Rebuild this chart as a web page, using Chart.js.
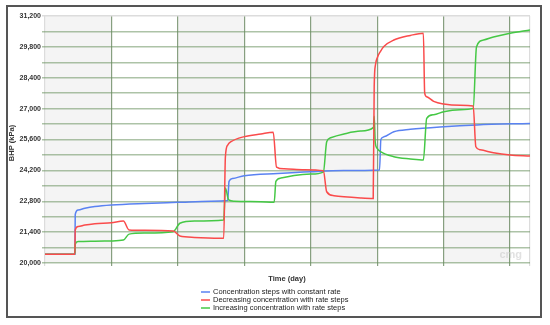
<!DOCTYPE html>
<html>
<head>
<meta charset="utf-8">
<script src="https://cdn.jsdelivr.net/npm/chart.js@4.4.1/dist/chart.umd.min.js"></script>
<style>
  html, body { margin: 0; padding: 0; background: #fff; }
  #wrap { position: relative; width: 550px; height: 325px; }
</style>
</head>
<body>
<div id="wrap"><canvas id="c" width="550" height="325"></canvas></div>
<script>
// DATA
const xTicks = [400, 420, 440, 460, 480, 500, 520, 540, 546];

const constDays = [400, 409, 409.1, 410, 412, 415, 420, 430, 440, 450, 455, 455.4, 456.5, 460, 470, 480, 490, 500.7, 501.1, 502, 505, 510, 520, 530, 546];
const constBHP  = [20400, 20400, 22200, 22400, 22480, 22560, 22630, 22700, 22750, 22800, 22830, 23700, 23830, 23960, 24060, 24140, 24190, 24220, 25600, 25720, 25950, 26060, 26180, 26260, 26330];

const decDays = [400, 409, 409.1, 410, 412, 415, 420, 423.6, 425.3, 430, 438.6, 440.6, 445, 453.8, 454.3, 455, 456, 460, 465, 468.7, 469.7, 472, 478, 483.8, 484.8, 487, 490, 495, 498.8, 499.1, 499.5, 500, 501, 502, 505, 510, 513.9, 514.3, 514.9, 517, 520, 525, 528.9, 529.7, 531, 535, 540, 546];
const decBHP  = [20400, 20400, 21500, 21650, 21720, 21780, 21830, 21900, 21500, 21480, 21450, 21220, 21160, 21120, 24800, 25350, 25500, 25730, 25850, 25930, 24350, 24270, 24230, 24180, 23230, 23050, 23000, 22950, 22930, 28000, 29000, 29300, 29600, 29820, 30110, 30320, 30420, 27700, 27540, 27330, 27210, 27150, 27120, 25270, 25130, 25000, 24900, 24850];

const incDays = [400, 409, 409.1, 410, 415, 420, 423.6, 425.3, 430, 438.6, 440.6, 445, 453.8, 454.3, 455.3, 457, 465, 469, 469.5, 471, 475, 480, 483.8, 484.8, 486, 490, 495, 498.9, 499.1, 499.4, 500, 501, 505, 510, 513.9, 514.9, 517, 520, 525, 528.9, 529.9, 532, 535, 540, 546];
const incBHP  = [20400, 20400, 20850, 20970, 20990, 21000, 21040, 21310, 21360, 21420, 21800, 21900, 21950, 23400, 22860, 22800, 22780, 22760, 23700, 23850, 23970, 24030, 24120, 25500, 25680, 25850, 25980, 26150, 26650, 25500, 25200, 25050, 24820, 24720, 24670, 26560, 26720, 26860, 26950, 27010, 29810, 30110, 30250, 30420, 30570];

const seriesNames = [
  'Concentration steps with constant rate',
  'Decreasing concentration with rate steps',
  'Increasing concentration with rate steps'
];
const blue  = '#5a82f2';
const red   = '#fa4b4b';
const green = '#45c845';

const toPoints = (xs, ys) => xs.map((x, i) => ({ x: x, y: ys[i] }));

// bands, frame, legend, titles
const extras = {
  id: 'extras',
  beforeDraw(chart) {
    const { ctx, chartArea: a, scales: { x } } = chart;
    ctx.save();
    for (let i = 0; i < xTicks.length - 1; i++) {
      if (i % 2 === 0) {
        const x0 = x.getPixelForValue(xTicks[i]);
        const x1 = x.getPixelForValue(xTicks[i + 1]);
        ctx.fillStyle = '#f4f4f4';
        ctx.fillRect(x0, a.top, x1 - x0, a.bottom - a.top);
      }
    }
    ctx.restore();
  },
  afterDraw(chart) {
    const { ctx, chartArea: a } = chart;
    ctx.save();
    // watermark
    ctx.fillStyle = 'rgba(205,205,205,0.6)';
    ctx.font = 'bold 11px "Liberation Sans"';
    ctx.textAlign = 'right';
    ctx.textBaseline = 'bottom';
    ctx.fillText('cmg', a.right - 8, a.bottom - 3);

    // axis titles
    ctx.fillStyle = '#333';
    ctx.font = 'bold 7.5px "Liberation Sans"';
    ctx.textAlign = 'center';
    ctx.textBaseline = 'middle';
    ctx.fillText('Time (day)', 287, 279);
    ctx.save();
    ctx.translate(12, 143);
    ctx.rotate(-Math.PI / 2);
    ctx.fillText('BHP (kPa)', 0, 0);
    ctx.restore();

    // legend
    const cols = [blue, red, green];
    const ys = [292, 300, 308];
    ctx.font = '7.5px "Liberation Sans"';
    ctx.textAlign = 'left';
    ctx.lineWidth = 1.5;
    seriesNames.forEach((n, i) => {
      ctx.strokeStyle = cols[i];
      ctx.beginPath();
      ctx.moveTo(201, ys[i]);
      ctx.lineTo(210, ys[i]);
      ctx.stroke();
      ctx.fillStyle = '#222';
      ctx.fillText(n, 213, ys[i]);
    });

    // frame
    ctx.strokeStyle = '#555';
    ctx.lineWidth = 2;
    ctx.strokeRect(7, 6, 534, 311);
    ctx.restore();
  }
};

const lineStyle = (color) => ({
  borderColor: color,
  backgroundColor: color,
  borderWidth: 1.5,
  pointRadius: 0,
  cubicInterpolationMode: 'monotone',
  fill: false
});

new Chart(document.getElementById('c'), {
  type: 'line',
  data: {
    datasets: [
      Object.assign({ label: seriesNames[1], data: toPoints(decDays, decBHP) }, lineStyle(red)),
      Object.assign({ label: seriesNames[2], data: toPoints(incDays, incBHP) }, lineStyle(green)),
      Object.assign({ label: seriesNames[0], data: toPoints(constDays, constBHP) }, lineStyle(blue))
    ]
  },
  options: {
    responsive: false,
    animation: false,
    layout: { padding: { top: 16, right: 20, bottom: 62, left: 0 } },
    plugins: { legend: { display: false }, tooltip: { enabled: false } },
    scales: {
      x: {
        type: 'linear',
        min: 400,
        max: 546,
        afterBuildTicks: s => { s.ticks = xTicks.map(v => ({ value: v })); },
        afterFit: s => { s.height = 0; },
        grid: {
          color: c => (c.tick && (c.tick.value === 400 || c.tick.value === 546)) ? '#dcdcdc' : 'rgba(85,120,75,0.7)',
          lineWidth: 1.2,
          tickLength: 3
        },
        border: { display: false },
        ticks: {
          autoSkip: false,
          maxRotation: 0,
          padding: 1,
          color: '#333',
          font: { family: 'Liberation Sans', size: 7, weight: 'bold' },
          callback: v => v
        }
      },
      y: {
        min: 20000,
        max: 31200,
        afterFit: s => { s.width = 45; },
        grid: {
          color: c => (c.tick && c.tick.value === 31200) ? '#dcdcdc' : 'rgba(105,145,95,0.55)',
          lineWidth: 1.5,
          tickLength: 3
        },
        border: { display: false },
        ticks: {
          stepSize: 700,
          autoSkip: false,
          padding: 1,
          color: '#333',
          font: { family: 'Liberation Sans', size: 7, weight: 'bold' },
          callback: v => ((v - 20000) % 1400 === 0) ? v.toLocaleString('en-US') : ''
        }
      }
    }
  },
  plugins: [extras]
});
</script>
</body>
</html>
